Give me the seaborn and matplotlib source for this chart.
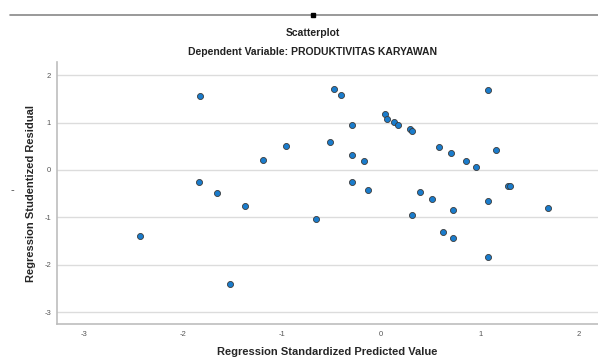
import numpy as np
import pandas as pd
import matplotlib
matplotlib.use("Agg")
import matplotlib.pyplot as plt
from matplotlib.lines import Line2D
import seaborn as sns

# data (standardized predicted vs studentized residual)
pred_std = [-1.833, -1.843, -1.655, -1.382, -1.194, -0.965, -2.439, -1.530,
            -0.473, -0.402, 1.079, 0.035, 0.056, 0.126, 0.170, -0.291,
            0.295, 0.315, -0.520, -0.295, -0.170, 0.581, 0.702, 0.854,
            0.955, 1.163, -0.295, -0.136, 0.396, 0.517, 0.729, 1.076,
            1.284, 1.301, 1.689, 0.315, -0.655, 0.624, 0.725, 1.079]
resid_stud = [1.571, -0.247, -0.486, -0.768, 0.211, 0.514, -1.389, -2.404,
              1.712, 1.592, 1.677, 1.191, 1.078, 1.008, 0.951, 0.958,
              0.860, 0.831, 0.585, 0.317, 0.183, 0.486, 0.352, 0.190,
              0.063, 0.430, -0.261, -0.430, -0.458, -0.620, -0.846, -0.655,
              -0.338, -0.338, -0.810, -0.944, -1.029, -1.304, -1.445, -1.833]
x_ticks = [-3, -2, -1, 0, 1, 2]
y_ticks = [-3, -2, -1, 0, 1, 2]

df = pd.DataFrame({"pred": pred_std, "resid": resid_stud})

sns.set_style("white")
plt.rcParams["font.family"] = ["Liberation Sans", "DejaVu Sans"]

fig = plt.figure(figsize=(5.98, 3.58), dpi=100)
ax = fig.add_axes([0.0948, 0.094, 0.9052, 0.733])

sns.scatterplot(data=df, x="pred", y="resid", ax=ax, s=19,
                color="#1a7ccc", edgecolor="#3a3a3a", linewidth=0.6,
                zorder=3)

ax.set_xlim(-3.28, 2.19)
ax.set_ylim(-3.26, 2.28)
ax.set_xticks(x_ticks)
ax.set_yticks(y_ticks)
ax.set_xticklabels([str(t) for t in x_ticks], fontsize=5.5, color="#555555")
ax.set_yticklabels([str(t) for t in y_ticks], fontsize=5.5, color="#555555")
ax.tick_params(axis="x", length=0, pad=5)
ax.tick_params(axis="y", length=0, pad=4)

ax.yaxis.grid(True, color="#dcdcdc", linewidth=1.0)
ax.xaxis.grid(False)
ax.set_axisbelow(True)
for side in ["top", "right"]:
    ax.spines[side].set_visible(False)
for side in ["left", "bottom"]:
    ax.spines[side].set_color("#bdbdbd")
    ax.spines[side].set_linewidth(1.2)

ax.set_xlabel("Regression Standardized Predicted Value", fontsize=8,
              fontweight="bold", labelpad=6)
ax.set_ylabel("Regression Studentized Residual", fontsize=8,
              fontweight="bold", labelpad=6)

# titles
fig.text(0.523, 0.907, "Scatterplot", ha="center", va="center",
         fontsize=7.5, fontweight="bold", color="#222222")
fig.text(0.523, 0.854, "Dependent Variable: PRODUKTIVITAS KARYAWAN",
         ha="center", va="center", fontsize=7.5, fontweight="bold",
         color="#222222")

# separator line at the top
fig.add_artist(Line2D([0.017, 1.0], [0.958, 0.958], transform=fig.transFigure,
                      color="#888888", linewidth=1.2))
fig.add_artist(Line2D([0.523], [0.958], transform=fig.transFigure,
                      marker="s", markersize=2.5, color="black"))
fig.text(0.02, 0.47, "-", ha="center", va="center", fontsize=8,
         color="#444444")

fig.savefig("out.png", dpi=100)
